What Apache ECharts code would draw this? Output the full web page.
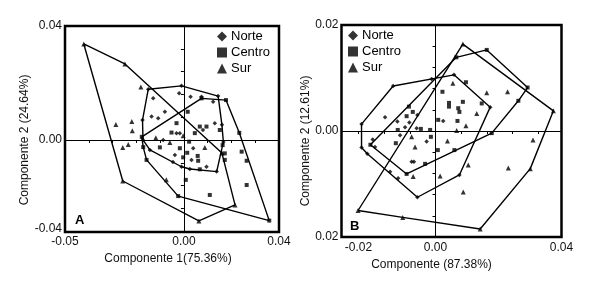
<!DOCTYPE html>
<html>
<head>
<meta charset="utf-8">
<script src="https://cdn.jsdelivr.net/npm/echarts@6/dist/echarts.min.js"></script>
<style>
  html, body { margin: 0; padding: 0; background: #fff; }
  #chart { width: 589px; height: 294px; }
</style>
</head>
<body>
<div id="chart"></div>
<script>
// groups / legend
var groupNames = ['Norte', 'Centro', 'Sur'];
var groupSymbols = ['diamond', 'rect', 'triangle'];
var groupSizes = [4.5, 4, 5];

// panel A : Componente 1 vs Componente 2
var norteA = [
  [-0.0150, 0.0178], [-0.0010, 0.0190], [0.0144, 0.0154], [0.0160, 0.0053], [0.0166, -0.0007],
  [0.0138, -0.0111], [0.0025, -0.0102], [-0.0010, -0.0094], [-0.0046, -0.0077], [-0.0143, -0.0035],
  [-0.0172, 0.0000], [-0.0174, 0.0070], [-0.0129, 0.0146], [-0.0020, 0.0164], [0.0028, 0.0152],
  [-0.0080, 0.0099], [-0.0136, 0.0082], [-0.0108, 0.0076], [0.0074, 0.0152], [0.0130, 0.0059],
  [-0.0017, 0.0024], [-0.0031, 0.0024], [-0.0087, 0.0000], [0.0039, -0.0029], [-0.0038, -0.0053],
  [0.0032, -0.0070], [0.0095, -0.0094], [0.0123, 0.0134], [0.0080, 0.0035]
];
var centroA = [
  [-0.0177, 0.0011], [0.0074, 0.0146], [0.0177, 0.0140], [0.0233, 0.0025], [0.0359, -0.0283],
  [-0.0024, -0.0197], [-0.0157, -0.0070], [-0.0171, -0.0025], [0.0016, 0.0099], [-0.0031, 0.0059],
  [-0.0052, 0.0026], [0.0046, 0.0024], [0.0067, 0.0047], [0.0095, 0.0047], [0.0151, 0.0035],
  [-0.0017, -0.0029], [0.0022, -0.0006], [0.0014, -0.0045], [-0.0003, -0.0061], [0.0058, -0.0056],
  [0.0060, -0.0073], [0.0172, -0.0047], [0.0172, -0.0070], [0.0243, -0.0041], [0.0264, -0.0073],
  [0.0264, -0.0158], [0.0008, -0.0140], [0.0109, -0.0193], [-0.0101, -0.0026], [0.0067, -0.0103],
  [0.0163, -0.0018]
];
var surA = [
  [-0.0421, 0.0337], [-0.0248, 0.0267], [0.0160, -0.0046], [0.0215, -0.0228], [0.0063, -0.0284],
  [-0.0257, -0.0144], [-0.0181, 0.0186], [-0.0286, 0.0054], [-0.0219, 0.0065], [-0.0217, 0.0032],
  [-0.0257, -0.0026], [-0.0234, -0.0016], [-0.0059, -0.0009], [-0.0003, 0.0015], [-0.0118, 0.0008],
  [0.0088, -0.0026], [-0.0074, -0.0140]
];

// panel B
var norteB = [
  [-0.0192, 0.0013], [-0.0110, 0.0085], [-0.0010, 0.0098], [0.0048, 0.0106], [0.0142, 0.0045],
  [0.0062, -0.0083], [-0.0047, -0.0125], [-0.0177, -0.0043], [-0.0192, -0.0031], [-0.0131, 0.0026],
  [-0.0099, 0.0018], [-0.0047, 0.0030], [-0.0068, 0.0016], [-0.0163, -0.0016], [-0.0157, -0.0030],
  [-0.0062, -0.0058], [-0.0056, -0.0058], [-0.0023, -0.0020], [-0.0049, 0.0005], [-0.0079, 0.0007],
  [0.0020, 0.0019], [-0.0092, -0.0008], [-0.0118, -0.0077], [-0.0097, -0.0089]
];
var centroB = [
  [-0.0169, -0.0026], [-0.0075, -0.0081], [0.0146, -0.0004], [0.0215, 0.0057], [0.0239, 0.0082],
  [0.0133, 0.0153], [0.0054, 0.0139], [0.0018, 0.0074], [0.0035, 0.0053], [0.0035, 0.0046],
  [0.0071, 0.0055], [0.0059, 0.0043], [0.0062, 0.0036], [0.0120, 0.0052], [0.0079, 0.0092],
  [0.0007, 0.0021], [0.0057, 0.0019], [-0.0012, -0.0011], [0.0006, -0.0036], [0.0049, -0.0036],
  [-0.0027, -0.0062], [-0.0075, 0.0028], [-0.0059, 0.0036], [-0.0069, 0.0046], [-0.0038, 0.0004],
  [-0.0098, 0.0002], [-0.0103, -0.0023], [-0.0014, 0.0002]
];
var surB = [
  [-0.0201, -0.0150], [-0.0085, -0.0163], [0.0116, -0.0185], [0.0246, -0.0071], [0.0306, 0.0038],
  [0.0071, 0.0164], [0.0045, 0.0090], [0.0133, 0.0072], [0.0187, 0.0074], [0.0107, 0.0033],
  [0.0079, 0.0010], [0.0055, 0.0001], [0.0031, -0.0019], [0.0253, -0.0017], [0.0189, -0.0070],
  [0.0085, -0.0064], [0.0072, -0.0115], [0.0012, -0.0085], [-0.0058, -0.0086], [-0.0062, -0.0011],
  [-0.0053, -0.0030]
];

// axis ranges and labels
var xRangeA = [-0.05, 0.04];
var yRangeA = [-0.0323, 0.04];
var xLabelsA = [-0.05, 0, 0.04];
var yLabelsA = [-0.031, 0, 0.04];
var yLabelTextA = ['-0.04', '0.00', '0.04'];
var xRangeB = [-0.0244, 0.0327];
var yRangeB = [-0.02, 0.02];
var xLabelsB = [-0.02, 0, 0.0327];
var xLabelTextB = ['-0.02', '0.00', '0.04'];
var yLabelsB = [-0.02, 0, 0.02];
var yLabelTextB = ['0.02', '0.00', '0.02'];

var FONT = 'Liberation Sans, Arial, sans-serif';

// convex hull (monotone chain), closed
function hull(pts) {
  var p = pts.slice().sort(function (a, b) { return a[0] - b[0] || a[1] - b[1]; });
  function cross(o, a, b) { return (a[0] - o[0]) * (b[1] - o[1]) - (a[1] - o[1]) * (b[0] - o[0]); }
  var lower = [], upper = [];
  p.forEach(function (q) {
    while (lower.length >= 2 && cross(lower[lower.length - 2], lower[lower.length - 1], q) <= 0) lower.pop();
    lower.push(q);
  });
  p.slice().reverse().forEach(function (q) {
    while (upper.length >= 2 && cross(upper[upper.length - 2], upper[upper.length - 1], q) <= 0) upper.pop();
    upper.push(q);
  });
  upper.pop(); lower.pop();
  var h = lower.concat(upper);
  h.push(h[0]);
  return h;
}

function ticks(from, to, step) {
  var out = [];
  for (var i = 0; from + i * step <= to + 1e-9; i++) out.push(+(from + i * step).toFixed(5));
  return out;
}

function pickText(values, texts) {
  return function (v) {
    var best = 0;
    values.forEach(function (c, i) { if (Math.abs(c - v) < Math.abs(values[best] - v)) best = i; });
    return texts[best];
  };
}

var series = [];
function addPanel(idx, sets) {
  sets.forEach(function (pts, g) {
    series.push({
      type: 'line',
      xAxisIndex: idx, yAxisIndex: idx,
      data: hull(pts),
      showSymbol: false,
      silent: true,
      lineStyle: { color: '#000', width: 1.4 },
      z: 2,
      markLine: g === 0 ? {
        silent: true,
        symbol: ['none', 'none'],
        label: { show: false },
        lineStyle: { color: '#000', width: 1, type: 'solid' },
        data: [{ xAxis: 0 }, { yAxis: 0 }]
      } : undefined
    });
    series.push({
      name: groupNames[g],
      type: 'scatter',
      xAxisIndex: idx, yAxisIndex: idx,
      symbol: groupSymbols[g],
      symbolSize: groupSizes[g],
      itemStyle: { color: '#000' },
      data: pts,
      z: 3
    });
  });
}
addPanel(0, [norteA, centroA, surA]);
addPanel(1, [norteB, centroB, surB]);

var labelStyle = { color: '#111', fontSize: 12, fontFamily: FONT };
var nameStyle = { color: '#111', fontSize: 12, fontFamily: FONT };

function legendFor(left, top) {
  return {
    left: left, top: top, orient: 'vertical',
    itemWidth: 10, itemHeight: 10, itemGap: 3, padding: 0,
    data: groupNames.map(function (n, i) { return { name: n, icon: groupSymbols[i] }; }),
    textStyle: { color: '#000', fontSize: 13, fontFamily: FONT, padding: [0, 0, 0, -1] },
    selectedMode: false
  };
}

var option = {
  animation: false,
  backgroundColor: '#fff',
  title: [
    { text: 'A', left: 75, top: 214, padding: 0, textStyle: { fontSize: 13, fontWeight: 'bold', color: '#000', fontFamily: FONT } },
    { text: 'B', left: 350, top: 220, padding: 0, textStyle: { fontSize: 13, fontWeight: 'bold', color: '#000', fontFamily: FONT } }
  ],
  legend: [legendFor(217, 30), legendFor(348, 29)],
  grid: [
    { left: 65, top: 26, width: 214, height: 206, show: true, borderColor: '#000', borderWidth: 2.5, backgroundColor: 'transparent' },
    { left: 341.5, top: 25, width: 220, height: 212, show: true, borderColor: '#000', borderWidth: 2.5, backgroundColor: 'transparent' }
  ],
  xAxis: [
    {
      gridIndex: 0, type: 'value', min: xRangeA[0], max: xRangeA[1],
      name: 'Componente 1(75.36%)', nameLocation: 'middle', nameGap: 19,
      nameTextStyle: Object.assign({ padding: [0, 8, 0, 0] }, nameStyle),
      splitLine: { show: false }, axisLine: { show: false },
      axisTick: { show: true, inside: false, length: 3, customValues: ticks(-0.05, 0.04, 0.01), lineStyle: { color: '#000' } },
      axisLabel: Object.assign({ margin: 4, customValues: xLabelsA, formatter: function (v) { return v.toFixed(2); } }, labelStyle)
    },
    {
      gridIndex: 1, type: 'value', min: xRangeB[0], max: xRangeB[1],
      name: 'Componente (87.38%)', nameLocation: 'middle', nameGap: 15,
      nameTextStyle: Object.assign({ padding: [0, 40, 0, 0] }, nameStyle),
      splitLine: { show: false }, axisLine: { show: false },
      axisTick: { show: true, inside: false, length: 3, customValues: ticks(-0.02, 0.0327, 0.02 / 3), lineStyle: { color: '#000' } },
      axisLabel: Object.assign({ margin: 5, customValues: xLabelsB, formatter: pickText(xLabelsB, xLabelTextB) }, labelStyle)
    }
  ],
  yAxis: [
    {
      gridIndex: 0, type: 'value', min: yRangeA[0], max: yRangeA[1],
      name: 'Componente 2 (24.64%)', nameLocation: 'middle', nameGap: 26,
      nameTextStyle: Object.assign({ padding: [0, 22, 0, 0] }, nameStyle),
      splitLine: { show: false }, axisLine: { show: false },
      axisTick: { show: true, inside: false, length: 3, customValues: ticks(-0.032, 0.04, 0.008), lineStyle: { color: '#000' } },
      axisLabel: Object.assign({ margin: 3, customValues: yLabelsA, formatter: pickText(yLabelsA, yLabelTextA) }, labelStyle)
    },
    {
      gridIndex: 1, type: 'value', min: yRangeB[0], max: yRangeB[1],
      name: 'Componente 2 (12.61%)', nameLocation: 'middle', nameGap: 25,
      nameTextStyle: Object.assign({ padding: [0, 20, 0, 0] }, nameStyle),
      splitLine: { show: false }, axisLine: { show: false },
      axisTick: { show: true, inside: false, length: 3, customValues: ticks(-0.02, 0.02, 0.004), lineStyle: { color: '#000' } },
      axisLabel: Object.assign({ margin: 3, customValues: yLabelsB, formatter: pickText(yLabelsB, yLabelTextB) }, labelStyle)
    }
  ],
  series: series
};

var myChart = echarts.init(document.getElementById('chart'));
myChart.setOption(option, true);
</script>
</body>
</html>
